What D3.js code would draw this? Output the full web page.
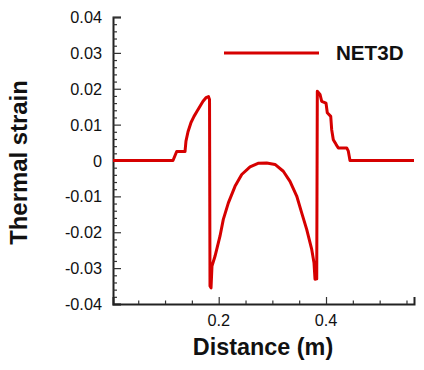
<!DOCTYPE html>
<html>
<head>
<meta charset="utf-8">
<script src="https://cdn.jsdelivr.net/npm/d3@7"></script>
<style>
  body { margin: 0; background: #fff; }
  svg { display: block; font-family: "Liberation Sans", Arial, sans-serif; }
</style>
</head>
<body>
<div id="chart"></div>
<script>
(function() {
  // thermal strain along the line (NET3D)
  var distance = [0.003, 0.1148, 0.1217, 0.1372, 0.139, 0.1428, 0.1484, 0.154, 0.1596,
    0.1652, 0.1708, 0.1763, 0.181, 0.1829, 0.1838, 0.1857, 0.1875, 0.1931, 0.2024,
    0.2086, 0.218, 0.2304, 0.2429, 0.2584, 0.2733, 0.2895, 0.305, 0.3204, 0.3329,
    0.3454, 0.3547, 0.364, 0.3734, 0.3776, 0.3795, 0.3827, 0.3838, 0.3888, 0.392,
    0.4, 0.4024, 0.4088, 0.4106, 0.4136, 0.4187, 0.4229, 0.4386, 0.4416, 0.4447, 0.564];
  var strain = [0, 0, 0.0025, 0.0025, 0.0054, 0.008, 0.0106, 0.0123, 0.0137,
    0.0151, 0.0165, 0.0175, 0.0178, 0.017, -0.035, -0.0355, -0.0294, -0.0267, -0.0211,
    -0.0164, -0.0118, -0.0072, -0.0039, -0.0018, -0.0008, -0.0007, -0.0011, -0.003, -0.0058,
    -0.0099, -0.0146, -0.0192, -0.0248, -0.0285, -0.0331, -0.033, 0.0193, 0.0184, 0.0165,
    0.016, 0.0133, 0.0123, 0.0086, 0.0058, 0.0045, 0.0035, 0.0035, 0.0026, 0, 0];

  var xLabels = [0.2, 0.4];
  var xMinor = [0.05, 0.1, 0.15, 0.25, 0.3, 0.35, 0.45, 0.5, 0.55];
  var yLabels = [-0.04, -0.03, -0.02, -0.01, 0, 0.01, 0.02, 0.03, 0.04];
  var seriesName = 'NET3D';

  const WIDTH = 424, HEIGHT = 370;
  const LINE_COLOR = '#d60000';

  var svg = d3.select('#chart').append('svg')
    .attr('width', WIDTH)
    .attr('height', HEIGHT);

  var x = d3.scaleLinear().domain([0.003, 0.564]).range([113, 414]);
  var y = d3.scaleLinear().domain([-0.04, 0.04]).range([304, 17]);

  var yMinor = d3.range(-0.04, 0.0401, 0.002).filter(function(v) {
    return Math.abs(Math.round(v * 100) - v * 100) > 1e-6;
  });

  // y axis, ticks inward
  var yAxis = d3.axisRight(y).tickValues(yLabels).tickSize(8).tickFormat('');
  var gy = svg.append('g').attr('transform', 'translate(113,0)').call(yAxis);
  svg.append('g').attr('transform', 'translate(113,0)')
    .call(d3.axisRight(y).tickValues(yMinor).tickSize(4).tickFormat(''))
    .select('.domain').remove();

  svg.selectAll('.ylab').data(yLabels).enter().append('text')
    .attr('x', 102)
    .attr('y', function(d) { return y(d) + 6; })
    .attr('text-anchor', 'end')
    .attr('font-size', 16.3)
    .attr('fill', '#111')
    .text(function(d) { return d === 0 ? '0' : d3.format('.2f')(d).replace('−', '-'); });

  // x axis, ticks inward
  var gx = svg.append('g').attr('transform', 'translate(0,304)')
    .call(d3.axisTop(x).tickValues(xLabels).tickSize(7).tickFormat(''));
  svg.append('g').attr('transform', 'translate(0,304)')
    .call(d3.axisTop(x).tickValues(xMinor).tickSize(3.5).tickFormat(''))
    .select('.domain').remove();

  svg.selectAll('.xlab').data(xLabels).enter().append('text')
    .attr('x', function(d) { return x(d); })
    .attr('y', 326)
    .attr('text-anchor', 'middle')
    .attr('font-size', 16.3)
    .attr('fill', '#111')
    .text(function(d) { return d3.format('.1f')(d); });

  svg.selectAll('.domain').attr('stroke', '#222').attr('stroke-width', 2);
  svg.selectAll('.tick line').attr('stroke', '#333').attr('stroke-width', 1.2);

  // curve
  var pts = distance.map(function(d, i) { return [d, strain[i]]; });
  var line = d3.line()
    .x(function(d) { return x(d[0]); })
    .y(function(d) { return y(d[1]); });

  svg.append('path')
    .datum(pts)
    .attr('d', line)
    .attr('fill', 'none')
    .attr('stroke', LINE_COLOR)
    .attr('stroke-width', 3)
    .attr('stroke-linejoin', 'round');

  // legend
  svg.append('line')
    .attr('x1', 224).attr('x2', 319)
    .attr('y1', 53).attr('y2', 53)
    .attr('stroke', LINE_COLOR)
    .attr('stroke-width', 3);
  svg.append('text')
    .attr('x', 336).attr('y', 60)
    .attr('font-size', 20.6)
    .attr('font-weight', 'bold')
    .attr('fill', '#111')
    .text(seriesName);

  // axis titles
  svg.append('text')
    .attr('x', 263).attr('y', 355)
    .attr('text-anchor', 'middle')
    .attr('font-size', 23.4)
    .attr('font-weight', 'bold')
    .attr('fill', '#111')
    .text('Distance (m)');

  svg.append('text')
    .attr('transform', 'translate(27,162.5) rotate(-90)')
    .attr('text-anchor', 'middle')
    .attr('font-size', 23.9)
    .attr('font-weight', 'bold')
    .attr('fill', '#111')
    .text('Thermal strain');
})();
</script>
</body>
</html>
